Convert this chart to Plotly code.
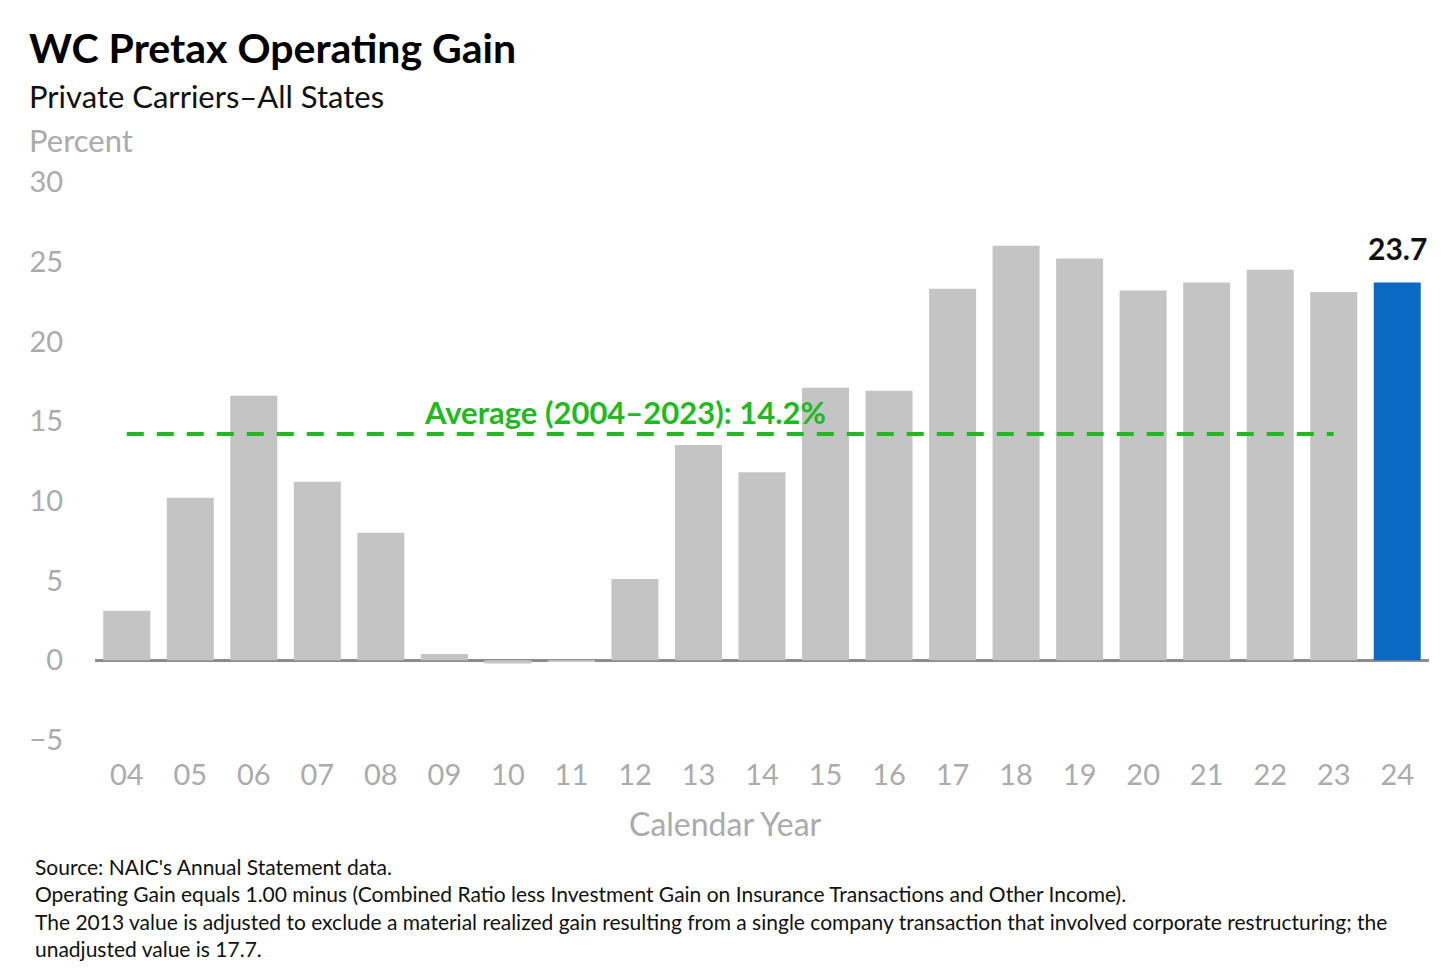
import plotly.graph_objects as go

years = ["04", "05", "06", "07", "08", "09", "10", "11", "12", "13",
         "14", "15", "16", "17", "18", "19", "20", "21", "22", "23", "24"]
gain = [3.1, 10.2, 16.6, 11.2, 8.0, 0.4, -0.2, -0.1, 5.1, 13.5,
        11.8, 17.1, 16.9, 23.3, 26.0, 25.2, 23.2, 23.7, 24.5, 23.1, 23.7]
average = 14.2
avg_years = years[:-1]
y_ticks = [-5, 0, 5, 10, 15, 20, 25, 30]

FONT = "Lato"
GRAY = "#c4c4c4"
BLUE = "#0a69c2"
GREEN = "#22b822"
TICK_GRAY = "#ababab"

# page offset (body margin) compensation
OFF = 8
W, H = 1456, 975
L, R, T, B = 95 - OFF, W - (1429 - OFF), 182 - OFF, H - (740 - OFF)
pw, ph = W - L - R, H - T - B


def px(xp):
    return (xp - OFF - L) / pw


def py(yp):
    return (H - B - (yp - OFF)) / ph


colors = [GRAY] * (len(years) - 1) + [BLUE]

fig = go.Figure()
fig.add_trace(go.Bar(
    x=years, y=gain, marker=dict(color=colors, line=dict(width=0)),
    hoverinfo="x+y",
))
fig.add_trace(go.Scatter(
    x=avg_years, y=[average] * len(avg_years), mode="lines",
    line=dict(color=GREEN, width=4, dash="17px,13px"), hoverinfo="skip",
))

fig.update_layout(
    width=W, height=H,
    paper_bgcolor="white", plot_bgcolor="white",
    showlegend=False, bargap=0.26,
    margin=dict(l=L, r=R, t=T, b=B),
    font=dict(family=FONT),
    xaxis=dict(
        type="category", showgrid=False, showline=False, zeroline=False,
        range=[-0.5, len(years) - 0.5],
        ticks="outside", ticklen=9, tickcolor="rgba(0,0,0,0)",
        tickfont=dict(family=FONT, size=29, color=TICK_GRAY),
    ),
    yaxis=dict(
        range=[-5, 30], tickvals=y_ticks, showgrid=False, showline=False,
        zeroline=True, zerolinecolor="#8c8c8c", zerolinewidth=2.5,
        ticks="outside", ticklen=25, tickcolor="rgba(0,0,0,0)",
        tickfont=dict(family=FONT, size=29, color=TICK_GRAY),
    ),
)

# value label on the latest bar (category index of last year)
fig.add_annotation(
    x=len(years) - 1, y=gain[-1], xref="x", yref="y", yanchor="bottom", yshift=14,
    text=f"<b>{gain[-1]:.1f}</b>", showarrow=False,
    font=dict(family=FONT, size=30, color="#111111"),
)

fig.add_annotation(
    x=7.85, y=average, xref="x", yref="y", yshift=22,
    text="Average (2004–2023): 14.2%", showarrow=False,
    font=dict(family=FONT, size=31, color=GREEN, weight="bold"),
)

header = [
    ("WC Pretax Operating Gain", 47, 41, "#000000", True),
    ("Private Carriers–All States", 96, 31, "#111111", False),
    ("Percent", 140, 31, TICK_GRAY, False),
]
for text, ypx, size, color, bold in header:
    fig.add_annotation(
        x=px(27), y=py(ypx), xref="paper", yref="paper",
        text=f"<b>{text}</b>" if bold else text, showarrow=False,
        xanchor="left", yanchor="middle",
        font=dict(family=FONT, size=size, color=color),
    )

fig.add_annotation(
    x=px(725), y=py(823), xref="paper", yref="paper", text="Calendar Year",
    showarrow=False, xanchor="center", yanchor="middle",
    font=dict(family=FONT, size=32, color=TICK_GRAY),
)

footnotes = [
    ("Source: NAIC's Annual Statement data.", 866),
    ("Operating Gain equals 1.00 minus (Combined Ratio less Investment Gain on Insurance Transactions and Other Income).", 893),
    ("The 2013 value is adjusted to exclude a material realized gain resulting from a single company transaction that involved corporate restructuring; the", 921),
    ("unadjusted value is 17.7.", 948),
]
for text, ypx in footnotes:
    fig.add_annotation(
        x=px(33), y=py(ypx), xref="paper", yref="paper", text=text,
        showarrow=False, xanchor="left", yanchor="middle",
        font=dict(family=FONT, size=21, color="#111111"),
    )

fig.write_html("out.html")
